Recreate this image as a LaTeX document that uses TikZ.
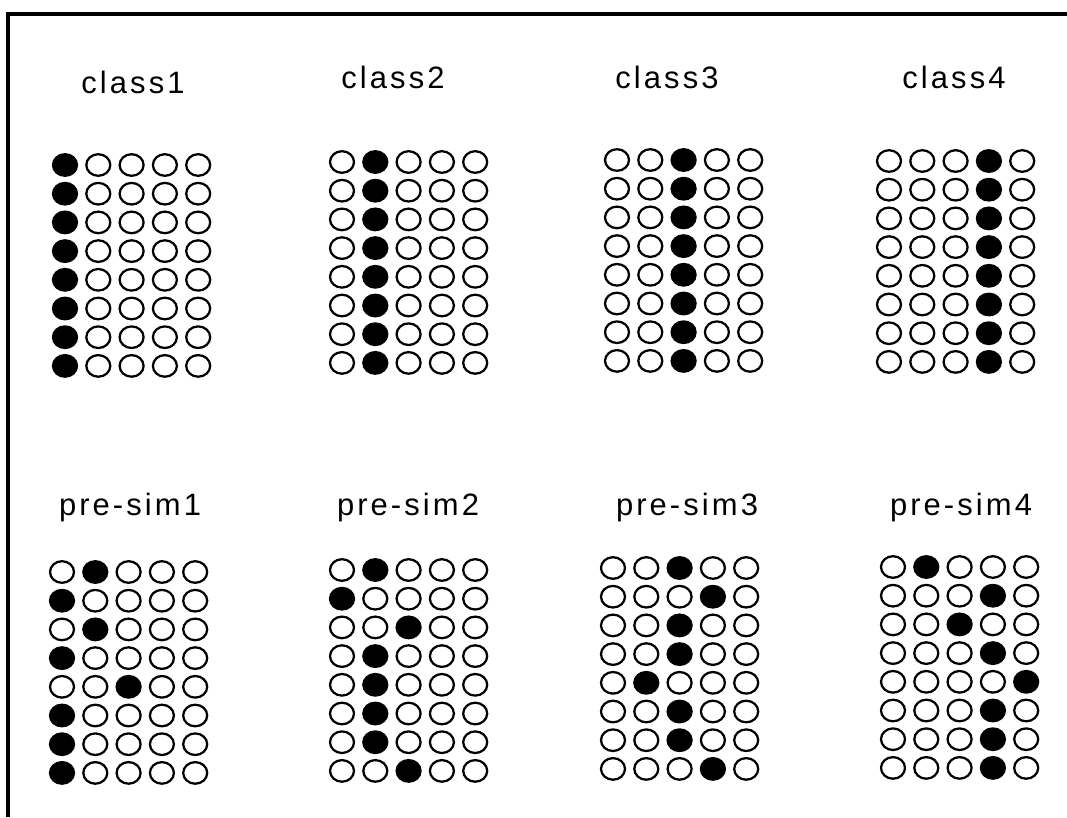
\documentclass[tikz,border=0pt]{standalone}
\usepackage{fontspec}
\setmainfont{Liberation Sans}
\usetikzlibrary{shapes.geometric}
\tikzset{
  bit/.style={ellipse,draw=black,line width=1.6pt,inner sep=0pt,
    minimum width=6mm,minimum height=5.4mm},
  bit on/.style={bit,fill=black},
  caption/.style={anchor=base,inner sep=0pt,
    font=\fontsize{22}{26}\selectfont\addfontfeature{LetterSpace=10}},
  frame/.style={line width=2.5pt},
}

\begin{document}
\begin{tikzpicture}[x=0.025cm,y=-0.025cm]
  \useasboundingbox (0,0) rectangle (1067,817);
  \draw[frame] (1067,14) -- (8,14) -- (8,817);
  % name / caption x,y / first bit x,y / filled column in each row
  \foreach \nm/\lx/\ly/\gx/\gy/\on [count=\g] in {
      class1/133/93/65/165/{1,1,1,1,1,1,1,1},
      class2/393/88/342/162/{2,2,2,2,2,2,2,2},
      class3/667/88/617/160/{3,3,3,3,3,3,3,3},
      class4/954/88/889/161/{4,4,4,4,4,4,4,4},
      pre-sim1/130/515/62/572/{2,1,2,1,3,1,1,1},
      pre-sim2/408/515/342/570/{2,1,3,2,2,2,2,3},
      pre-sim3/687/515/613/568/{3,4,3,3,2,3,3,4},
      pre-sim4/961/515/893/567/{2,4,3,4,5,4,4,4}}{
    \node[caption] (t\g) at (\lx,\ly) {\nm};
    \foreach \c [count=\r] in \on {
      \foreach \k in {1,...,5} {
        \ifnum\k=\c \def\st{bit on}\else\def\st{bit}\fi
        \node[\st] (g\g-\r-\k) at ({\gx+(\k-1)*33.3},{\gy+(\r-1)*28.7}) {};
      }
    }
  }
\end{tikzpicture}
\end{document}
